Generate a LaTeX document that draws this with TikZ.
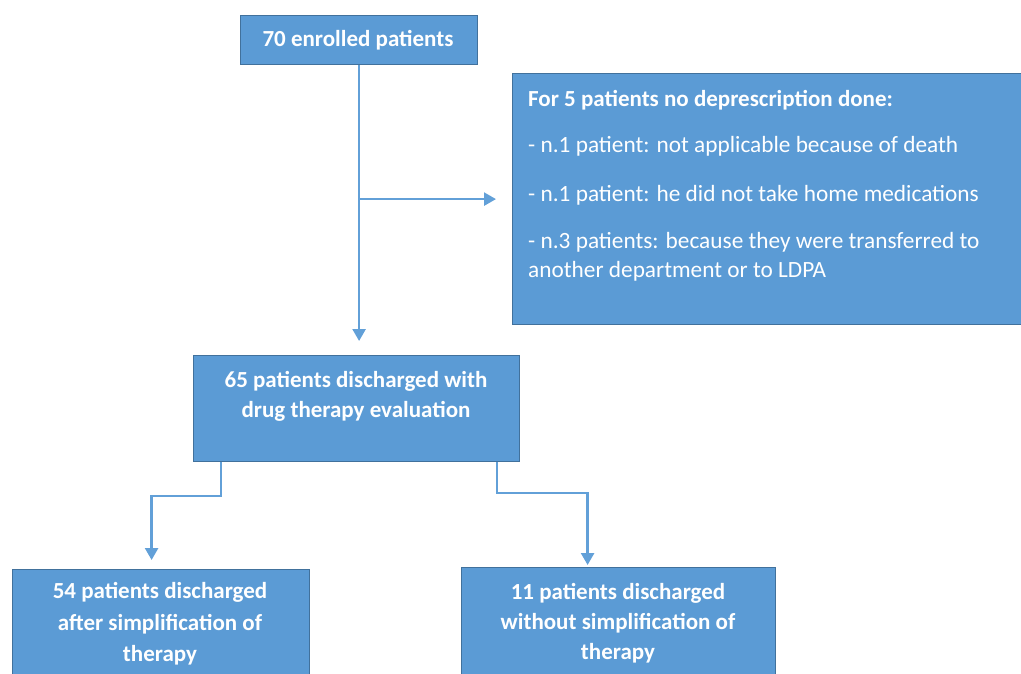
\documentclass[tikz,border=0pt]{standalone}
\usepackage{fontspec}
\setmainfont{Carlito}
\usetikzlibrary{arrows.meta}
\definecolor{boxfill}{RGB}{91,155,213}
\definecolor{boxline}{RGB}{65,113,156}
\definecolor{connc}{RGB}{98,160,216}
\begin{document}
\begin{tikzpicture}[x=1pt,y=-1pt,
  box/.style={draw=boxline,line width=1.2pt,fill=boxfill,inner sep=0pt,anchor=north west},
  btxt/.style={text=white,font=\fontsize{23}{30}\selectfont\bfseries,align=center,inner sep=0pt},
  ltxt/.style={text=white,font=\fontsize{23.3}{29}\selectfont,align=left,inner sep=0pt,anchor=mid west},
  conn/.style={draw=connc,line width=2.5pt,-{Triangle[length=12pt,width=13pt]}},
  plainline/.style={draw=connc,line width=2.5pt}]
\useasboundingbox (0,0) rectangle (1021,673);
\clip (0,0) rectangle (1021,673);
% boxes
\node[box,minimum width=237pt,minimum height=49pt] (b1) at (240,15) {};
\node[box,minimum width=530pt,minimum height=251pt] (rb) at (512,73) {};
\node[box,minimum width=326pt,minimum height=106pt] (b2) at (193,355) {};
\node[box,minimum width=297pt,minimum height=120pt] (b3) at (12,569) {};
\node[box,minimum width=314pt,minimum height=120pt] (b4) at (461,567) {};
% texts
\node[btxt] (t1) at (358,40) {70 enrolled patients};
\node[btxt] (t2) at (356,396) {65 patients discharged with\\drug therapy evaluation};
\node[btxt,font=\fontsize{23}{31.5}\selectfont\bfseries] (t3) at (160,624) {54 patients discharged\\after simplification of\\therapy};
\node[btxt] (t4) at (618,623) {11 patients discharged\\without simplification of\\therapy};
\node[ltxt,font=\fontsize{23}{29}\selectfont\bfseries] (r1) at (528,104) {For 5 patients no deprescription done:};
\node[ltxt] (r2) at (528,150) {- n.1 patient: not applicable because of death};
\node[ltxt] (r3) at (528,199) {- n.1 patient: he did not take home medications};
\node[ltxt] (r4) at (528,246) {- n.3 patients: because they were transferred to};
\node[ltxt] (r5) at (528,275) {another department or to LDPA};
% connectors
\draw[conn,shorten >=14pt] (b1.south) -- (b1.south |- b2.north);
\draw[conn,shorten >=16pt] (b1.south |- rb.west) -- (rb.west);
\draw[conn,shorten >=9pt] ([xshift=28pt]b2.south west) -- ++(0,34) -| ([xshift=-9.5pt]b3.north);
\draw[conn,shorten >=2pt] ([xshift=-23pt]b2.south east) -- ++(0,31) -| ([xshift=-31pt]b4.north);
\end{tikzpicture}
\end{document}
